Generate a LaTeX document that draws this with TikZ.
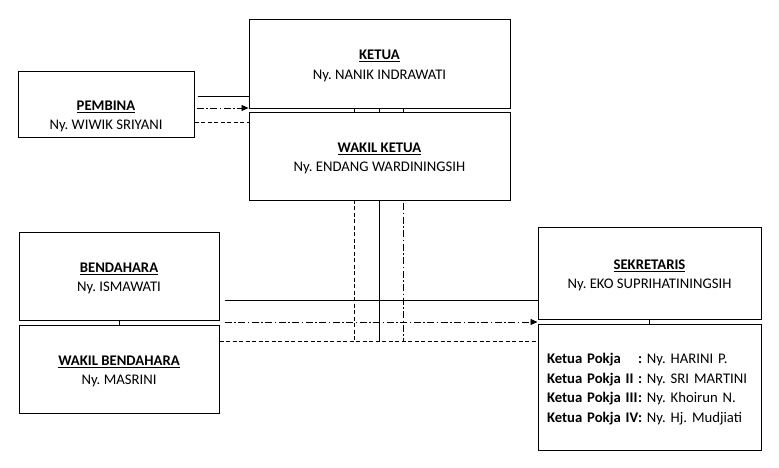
\documentclass[tikz,border=0pt]{standalone}
\usepackage{fontspec}
\setmainfont{Carlito}
\usepackage{tikz}
\usetikzlibrary{arrows.meta, positioning, backgrounds}
\tikzset{
    % boxes and lines as in the organisation chart
    box/.style = {rectangle, draw=black, line width=1pt, fill=white, align=center, inner sep=0pt, font=\fontsize{14.7}{19.5}\selectfont},
    solidline/.style = {line width=0.9pt},
    dashline/.style = {line width=0.9pt, dash pattern=on 4pt off 2.5pt},
    dotdashline/.style = {line width=0.9pt, dash pattern=on 7pt off 2.5pt on 1.5pt off 2.5pt},
    arrow/.style = {-{Triangle[length=7pt,width=6pt]}}
}
\frenchspacing
\newcommand{\jabatan}[2]{\rule{0pt}{14.5pt}\underline{\textbf{#1}}\\ #2}
\newcommand{\pokja}[2]{\makebox[91pt][l]{\textbf{#1}}\textbf{:} #2}

\begin{document}
\begin{tikzpicture}[x=1pt, y=-1pt]
\useasboundingbox (0,0) rectangle (779,467);

% Nodes
\node[box, minimum width=261pt, minimum height=89pt] (ketua) at (379.5,63.5) {\jabatan{KETUA}{Ny. NANIK INDRAWATI}};
\node[box, minimum width=261pt, minimum height=88pt, below=3pt of ketua] (wakil_ketua) {\jabatan{WAKIL KETUA}{Ny. ENDANG WARDININGSIH}};
\node[box, minimum width=176pt, minimum height=66pt, label={[box, draw=none, fill=none, yshift=-10pt]center:\jabatan{PEMBINA}{Ny. WIWIK SRIYANI}}] (pembina) at (106,104) {};
\node[box, minimum width=200pt, minimum height=88pt] (bendahara) at (119,276) {\jabatan{BENDAHARA}{Ny. ISMAWATI}};
\node[box, minimum width=200pt, minimum height=88pt, below=4pt of bendahara] (wakil_bendahara) {\jabatan{WAKIL BENDAHARA}{Ny. MASRINI}};
\node[box, minimum width=223pt, minimum height=92pt] (sekretaris) at (649.5,273) {\jabatan{SEKRETARIS}{Ny. EKO SUPRIHATININGSIH}};
\node[box, minimum width=223pt, minimum height=126pt, text width=205pt, align=left, below=4pt of sekretaris] (pokja) {%
\rule{0pt}{14.5pt}\pokja{Ketua Pokja}{Ny. HARINI P.}\\
\pokja{Ketua Pokja II}{Ny. SRI MARTINI}\\
\pokja{Ketua Pokja III}{Ny. Khoirun N.}\\
\pokja{Ketua Pokja IV}{Ny. Hj. Mudjiati}};

% Lines
\begin{pgfonlayer}{background}
\coordinate (p_solid) at ([xshift=3pt,yshift=8pt]pembina.east);
\coordinate (p_dotdash) at ([xshift=2pt,yshift=-4pt]pembina.east);
\coordinate (p_dash) at ([yshift=-18pt]pembina.east);
\coordinate (b_solid) at ([xshift=5pt,yshift=-24pt]bendahara.east);
\coordinate (b_dotdash) at ([xshift=5pt,yshift=-46pt]bendahara.east);
\coordinate (jalur) at ([yshift=28pt]wakil_bendahara.east);
\coordinate (v_dash) at ([xshift=-25pt]ketua.south);
\coordinate (v_dotdash) at ([xshift=24pt]ketua.south);

\draw[solidline] (p_solid) -- (p_solid -| ketua.west);
\draw[dotdashline, arrow] (p_dotdash) -- (p_dotdash -| ketua.west);
\draw[dashline] (p_dash) -- (p_dash -| wakil_ketua.west);
\draw[dashline] (v_dash) -- (v_dash |- jalur);
\draw[solidline] (ketua.south) -- (ketua.south |- jalur);
\draw[dotdashline] (v_dotdash) -- (v_dotdash |- jalur);
\draw[solidline] (b_solid) -- (b_solid -| sekretaris.west);
\draw[dotdashline, arrow] (b_dotdash) -- (b_dotdash -| sekretaris.west);
\draw[dashline] (jalur) -- (jalur -| pokja.west);
\draw[solidline] (bendahara) -- (wakil_bendahara);
\draw[solidline] (sekretaris) -- (pokja);
\end{pgfonlayer}

\end{tikzpicture}
\end{document}
